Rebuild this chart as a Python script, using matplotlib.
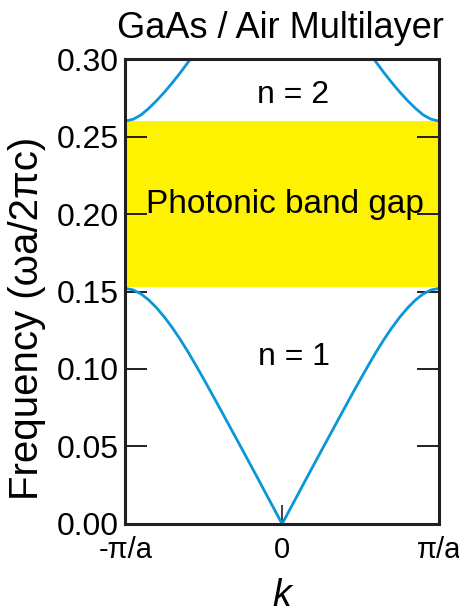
import matplotlib
matplotlib.use("Agg")
import matplotlib.pyplot as plt
import numpy as np

plt.rcParams['font.family'] = ['Liberation Sans', 'DejaVu Sans']

# band n = 1 (k in units of pi/a, frequency in wa/2pi c), right half
k_band1 = [0.0, 0.05, 0.1, 0.15, 0.2, 0.25, 0.3, 0.35, 0.4, 0.45, 0.5,
           0.55, 0.6, 0.65, 0.7, 0.75, 0.8, 0.85, 0.9, 0.95, 1.0]
f_band1 = [0.0, 0.0095, 0.0189, 0.0284, 0.0378, 0.0472, 0.0565, 0.0658, 0.0751, 0.0843, 0.0934,
           0.1023, 0.1109, 0.1190, 0.1265, 0.1333, 0.1393, 0.1444, 0.1484, 0.1510, 0.1520]
# band n = 2, right half
k_band2 = [0.55, 0.6, 0.65, 0.7, 0.75, 0.8, 0.85, 0.9, 0.95, 1.0]
f_band2 = [0.3052, 0.2980, 0.2912, 0.2848, 0.2788, 0.2733, 0.2683, 0.2640, 0.2612, 0.2600]

gap_low, gap_high = 0.153, 0.260

x_ticks = [-1, 0, 1]
x_labels = ['-\u03c0/a', '0', '\u03c0/a']
y_ticks = [0.00, 0.05, 0.10, 0.15, 0.20, 0.25, 0.30]

blue = '#0a96d8'
dark = '#231f20'

fig = plt.figure(figsize=(4.6, 6.15), dpi=100)
ax = fig.add_axes([0.2728, 0.148, 0.681, 0.756])

ax.axhspan(gap_low, gap_high, color='#fff200', zorder=1, lw=0)

# band 1 is one continuous curve through k = 0
ks = np.array(k_band1)
fs = np.array(f_band1)
ax.plot(np.concatenate([-ks[::-1], ks]), np.concatenate([fs[::-1], fs]),
        color=blue, lw=2.0, zorder=2)
# band 2: two separate branches near the zone edges
ks = np.array(k_band2)
fs = np.array(f_band2)
ax.plot(-ks, fs, color=blue, lw=2.0, zorder=2)
ax.plot(ks, fs, color=blue, lw=2.0, zorder=2)

ax.set_xlim(-1, 1)
ax.set_ylim(0, 0.30)
ax.set_xticks(x_ticks)
ax.set_xticklabels(x_labels)
ax.set_yticks(y_ticks)
ax.set_yticklabels([f"{v:.2f}" for v in y_ticks])
ax.tick_params(axis='y', direction='in', length=16, width=1.4, color=dark,
               left=True, right=True, labelsize=23, pad=5)
ax.tick_params(axis='x', direction='in', length=14, width=1.2, color=dark,
               labelsize=21, pad=9)
for s in ax.spines.values():
    s.set_linewidth(2.2)
    s.set_color(dark)
    s.set_zorder(3)

ax.set_title('GaAs / Air Multilayer', fontsize=26, pad=15, x=0.494)
ax.set_ylabel('Frequency (\u03c9a/2\u03c0c)', fontsize=29)
ax.yaxis.set_label_coords(-0.255, 0.443)
ax.set_xlabel('k', fontsize=27, style='italic', labelpad=10)

ax.text(0.073, 0.277, 'n = 2', fontsize=23, ha='center', va='center', zorder=4)
ax.text(0.016, 0.206, 'Photonic band gap', fontsize=24, ha='center', va='center', zorder=4)
ax.text(0.073, 0.108, 'n = 1', fontsize=23, ha='center', va='center', zorder=4)

fig.savefig('out.png', dpi=100)
